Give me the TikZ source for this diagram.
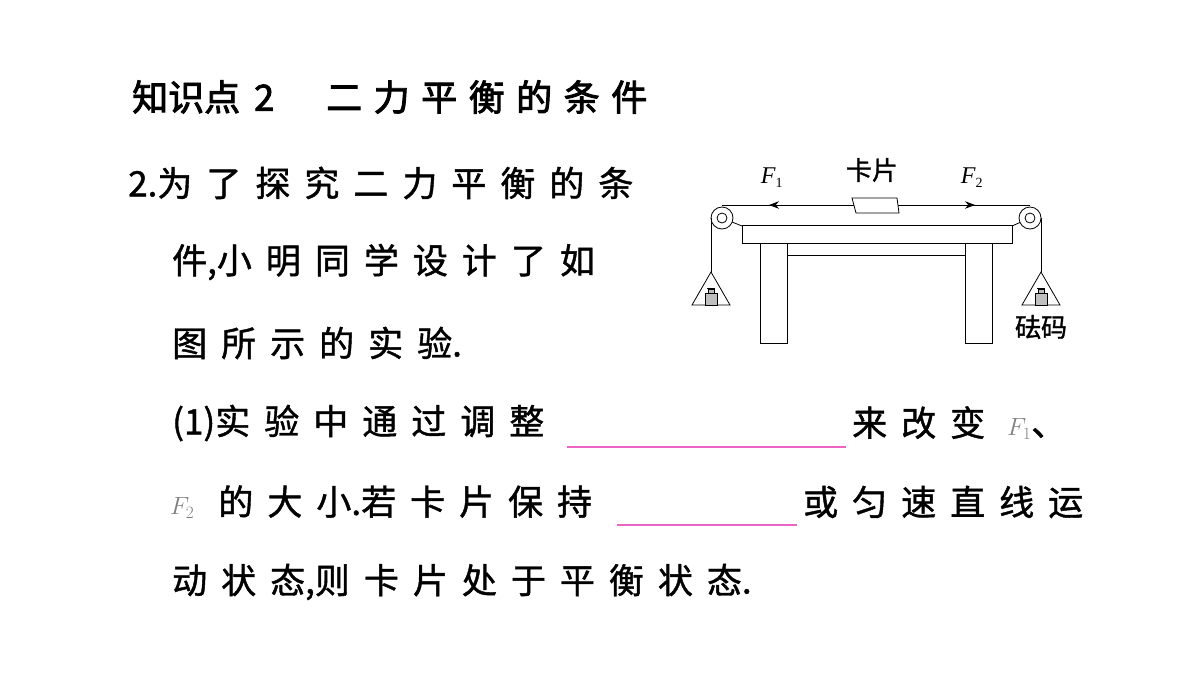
\documentclass[tikz,border=0pt]{standalone}
\usepackage{fontspec}
\setmainfont{Liberation Serif}
\newfontfamily\cjk[FakeBold=1.2]{Noto Sans CJK SC}
\newfontfamily\cjkb[FakeBold=2.5]{Noto Sans CJK SC}
\newfontfamily\cjkbw[FakeBold=2.5,LetterSpace=32]{Noto Sans CJK SC}
\newfontfamily\cjkw[LetterSpace=40,FakeBold=1.2]{Noto Sans CJK SC}
\usetikzlibrary{arrows.meta}
\definecolor{blankpink}{RGB}{236,100,196}

\begin{document}
\begin{tikzpicture}[x=1pt,y=-1pt,
  line/.style = {anchor=west, inner sep=0pt, font=\fontsize{35}{35}\selectfont\cjkw},
  part/.style = {draw, thick, fill=white},
  fl/.style = {font=\fontsize{24}{24}\selectfont\itshape, inner sep=0pt},
  blank/.style = {blankpink, line width=1.3pt}
                ]
    \useasboundingbox (0,0) rectangle (1200,675);
    % text
    \node[anchor=west, inner sep=0pt, font=\fontsize{36}{36}\selectfont\cjkb] (title) at (132,97)
      {知识点\hspace{14pt}2\hspace{52pt}{\cjkbw 二力平衡的条件}};
    \node[line] (l1) at (128,183) {{\cjk 2.}为了探究二力平衡的条};
    \node[line] (l2) at (172,262) {件{\cjk ,}小明同学设计了如};
    \node[line] (l3) at (172,343) {图所示的实验{\cjk .}};
    \node[line] (l4a) at (172,423) {{\cjk (1)}实验中通过调整};
    \node[line] (l4b) at (852,423) {来改变 {\color{gray}$F_{\scriptscriptstyle 1}$}、};
    \node[line] (l5a) at (170,502) {{\color{gray}$F_{\scriptscriptstyle 2}$}\hspace{24pt}的大小{\cjk .}若卡片保持};
    \node[line] (l5b) at (803,502) {或匀速直线运};
    \node[line] (l6) at (172,582) {动状态{\cjk ,}则卡片处于平衡状态{\cjk .}};
    \draw[blank] (567,447) -- (846,447);
    \draw[blank] (617,525) -- (797,525);

    % table
    \draw[part] (760,243) rectangle (787,343);
    \draw[part] (965,243) rectangle (992,343);
    \draw[thick] (787,255) -- (965,255);
    \draw[part] (742,225) rectangle (1012,243);
    % pulleys and string
    \coordinate (pl) at (722,218);
    \coordinate (pr) at (1030,218);
    \draw[thick] (722,205) -- (1030,205);
    \draw[thick] (pl) -- (742,226);
    \draw[thick] (pr) -- (1012,226);
    \foreach \p in {pl,pr}{
      \draw[thick, fill=white] (\p) circle (11);
      \draw[thick] (\p) circle (5);
    }
    \draw[thick] (711,218) -- (711,272);
    \draw[thick] (1041,218) -- (1041,272);
    % pans with weights
    \foreach \cx in {711,1041}{
      \draw[thick] (\cx,272) -- (\cx-19,305) -- (\cx+19,305) -- cycle;
      \draw[fill=gray!50] (\cx-6,293) rectangle (\cx+6,305);
      \draw[fill=gray!50] (\cx-3,289) rectangle (\cx+3,293);
      \draw (\cx-4,288) -- (\cx+4,288);
    }
    % card and forces
    \draw[thick, fill=white] (852,198) -- (897,198) -- (899,213) -- (856,213) -- cycle;
    \draw[-{Stealth[length=10pt]}, thick] (800,205) -- (769,205);
    \draw[-{Stealth[length=10pt]}, thick] (940,205) -- (975,205);
    \node[fl] (f1) at (772,178) {F\textsubscript{\normalfont\fontsize{14}{14}\selectfont 1}};
    \node[fl] (f2) at (972,178) {F\textsubscript{\normalfont\fontsize{14}{14}\selectfont 2}};
    \node[font=\fontsize{26}{26}\selectfont\cjk, inner sep=0pt] (card) at (872,170) {卡片};
    \node[font=\fontsize{26}{26}\selectfont\cjk, inner sep=0pt] (wt) at (1041,327) {砝码};
\end{tikzpicture}
\end{document}
